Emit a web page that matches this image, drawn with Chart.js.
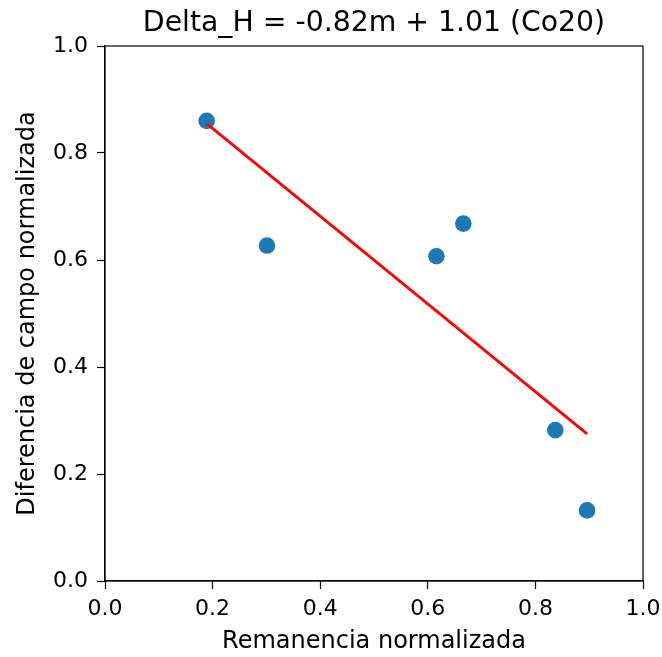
<!DOCTYPE html>
<html>
<head>
<meta charset="utf-8">
<script src="https://cdn.jsdelivr.net/npm/chart.js@4"></script>
<style>
html,body{margin:0;padding:0;background:#fff;}
#wrap{width:662px;height:657px;}
</style>
</head>
<body>
<div id="wrap"><canvas id="c" width="662" height="657"></canvas></div>
<script>
const titleText = 'Delta_H = -0.82m + 1.01 (Co20)';
const xLabel = 'Remanencia normalizada';
const yLabel = 'Diferencia de campo normalizada';
const pointsX = [0.189, 0.301, 0.616, 0.666, 0.837, 0.896];
const pointsY = [0.860, 0.627, 0.607, 0.668, 0.282, 0.132];
const fitX = [0.189, 0.896];
const fitY = [0.855, 0.275];
const tickValues = [0.0, 0.2, 0.4, 0.6, 0.8, 1.0];

const FONT = 'DejaVu Sans';
const scatterData = pointsX.map((x, i) => ({x: x, y: pointsY[i]}));
const fitData = fitX.map((x, i) => ({x: x, y: fitY[i]}));

const framePlugin = {
  id: 'frame',
  afterDatasetsDraw(chart) {
    const {ctx, chartArea: a} = chart;
    ctx.save();
    ctx.strokeStyle = '#000';
    ctx.lineWidth = 1.2;
    ctx.strokeRect(a.left, a.top, a.right - a.left, a.bottom - a.top);
    ctx.restore();
  },
  afterDraw(chart) {
    const {ctx, chartArea: a} = chart;
    ctx.save();
    ctx.fillStyle = '#000';
    ctx.font = '28.3px "' + FONT + '"';
    ctx.textAlign = 'center';
    ctx.textBaseline = 'alphabetic';
    ctx.fillText(titleText, (a.left + a.right) / 2, 31);
    ctx.restore();
  }
};

const axisCommon = (title, titlePad, tickPad) => ({
  type: 'linear',
  min: 0, max: 1,
  afterBuildTicks(scale) { scale.ticks = tickValues.map(v => ({value: v})); },
  ticks: {
    color: '#000',
    font: {family: FONT, size: 22},
    padding: tickPad,
    callback: v => Number(v).toFixed(1),
    maxRotation: 0,
    autoSkip: false
  },
  grid: {
    display: true,
    drawOnChartArea: false,
    drawTicks: true,
    tickLength: 8,
    tickWidth: 1.2,
    tickColor: '#000'
  },
  border: {display: true, color: '#000', width: 1.2},
  title: {
    display: true,
    text: title,
    color: '#000',
    font: {family: FONT, size: 24},
    padding: titlePad
  }
});

const xAxis = axisCommon(xLabel, {top: 1, bottom: 1}, 7);
xAxis.position = 'bottom';
xAxis.afterFit = s => { s.height = 657 - 581; s.paddingLeft = 0; s.paddingRight = 0; };
const yAxis = axisCommon(yLabel, {top: 13, bottom: 13}, 9);
yAxis.position = 'left';
yAxis.afterFit = s => { s.width = 105; s.paddingTop = 0; s.paddingBottom = 0; };

new Chart(document.getElementById('c'), {
  type: 'scatter',
  data: {
    datasets: [
      {
        type: 'line',
        data: fitData,
        borderColor: '#ff0000',
        borderWidth: 2.8,
        pointRadius: 0,
        fill: false,
        tension: 0
      },
      {
        type: 'scatter',
        data: scatterData,
        backgroundColor: '#1f77b4',
        borderColor: '#1f77b4',
        borderWidth: 0,
        pointRadius: 8.3,
        pointHoverRadius: 8.3
      }
    ]
  },
  options: {
    responsive: false,
    animation: false,
    devicePixelRatio: 1,
    layout: {padding: {top: 46, right: 19, left: 0, bottom: 0}},
    plugins: {legend: {display: false}, tooltip: {enabled: false}, title: {display: false}},
    scales: {x: xAxis, y: yAxis}
  },
  plugins: [framePlugin]
});
</script>
</body>
</html>
